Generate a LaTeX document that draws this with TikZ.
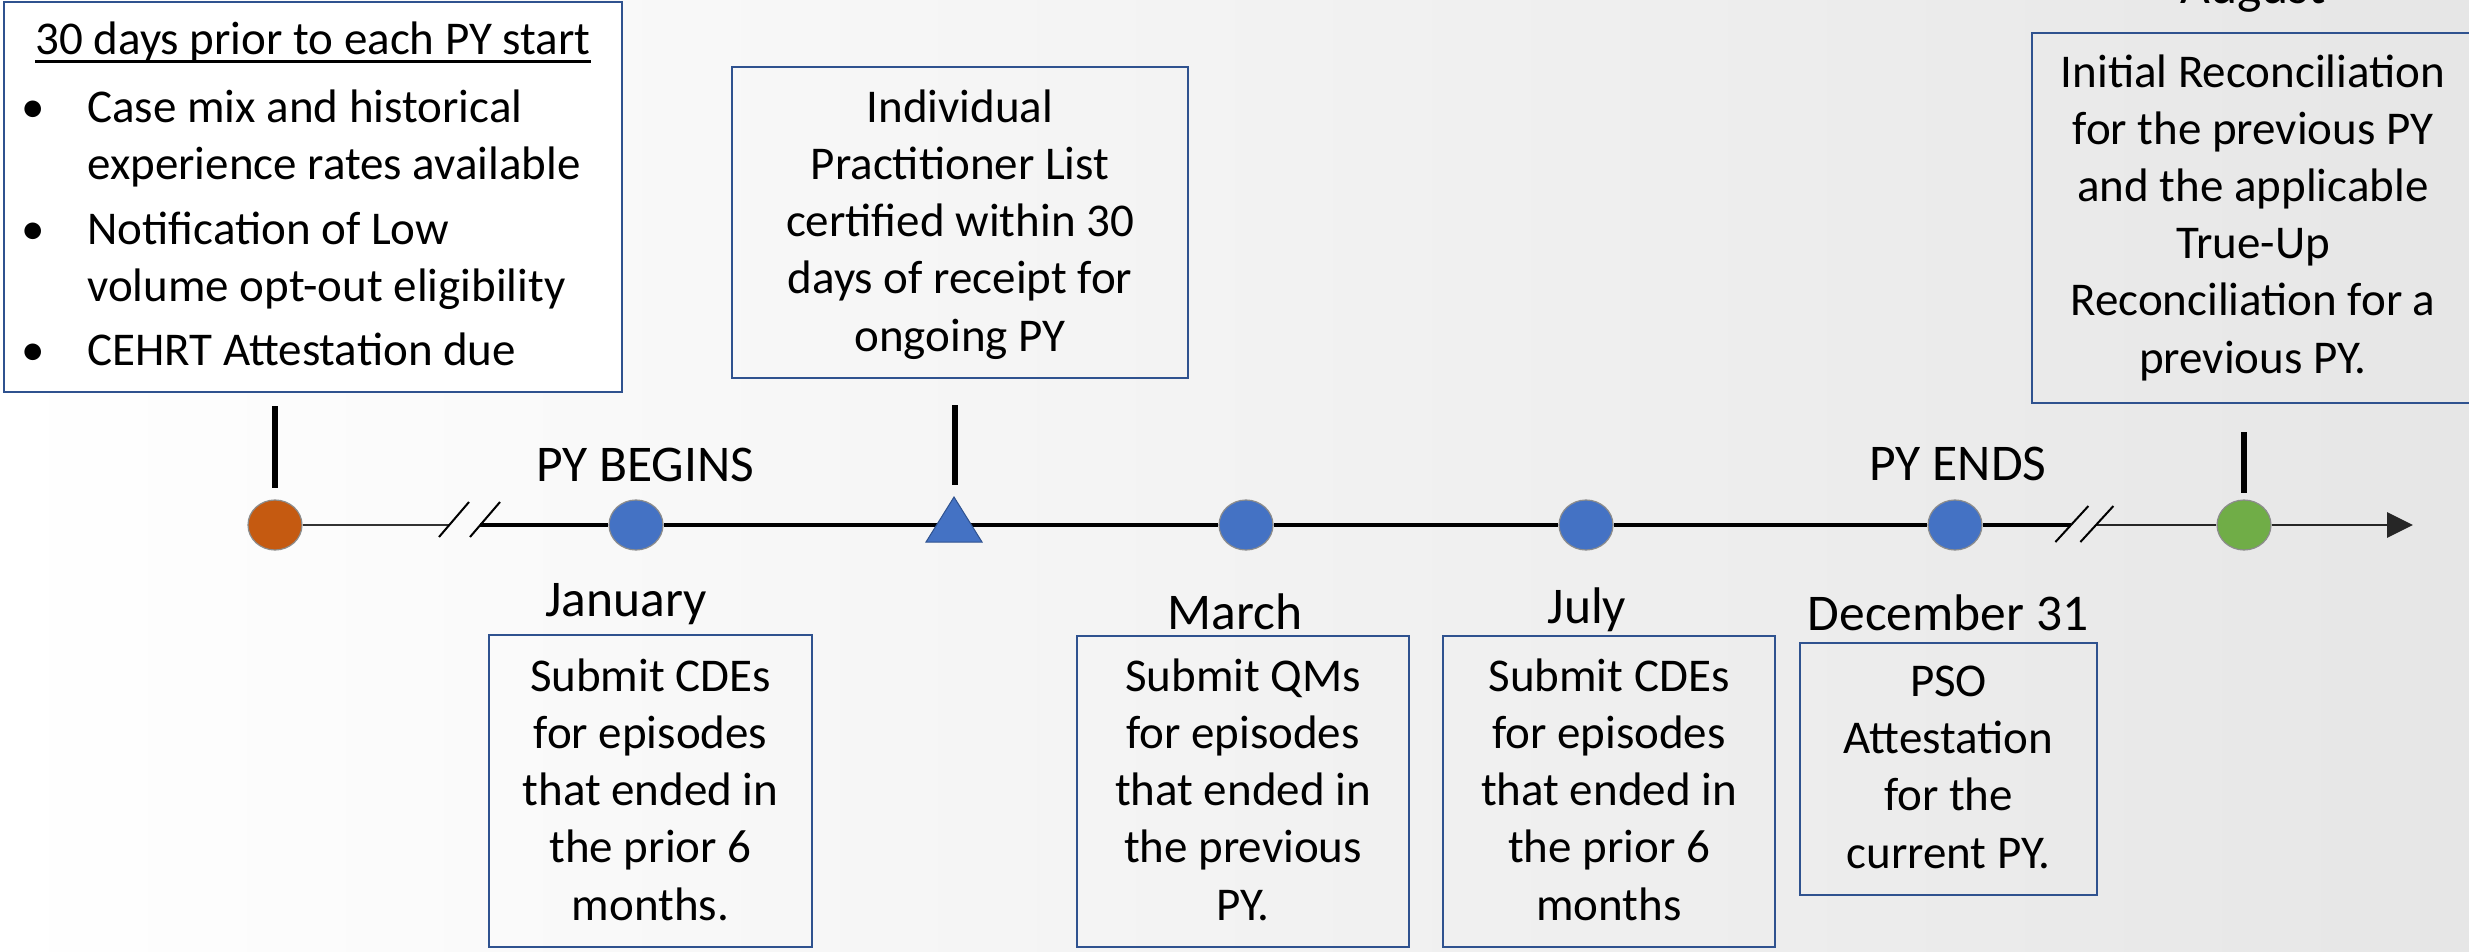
\documentclass[tikz,border=0pt]{standalone}
\usepackage{fontspec}
\setmainfont{Carlito}
\usetikzlibrary{shapes.geometric,arrows.meta}
\definecolor{frameblue}{RGB}{47,82,143}
\definecolor{dotblue}{RGB}{68,114,196}
\definecolor{dotorange}{RGB}{197,90,17}
\definecolor{dotgreen}{RGB}{112,173,71}
\definecolor{bgright}{RGB}{230,230,230}
\begin{document}
\begin{tikzpicture}[x=0.5pt,y=-0.5pt,
  frame/.style={draw=frameblue,line width=1.4pt,rectangle,inner sep=0pt,outer sep=0pt},
  boxtext/.style={font=\fontsize{23.5pt}{28.6pt}\selectfont,align=center,inner sep=0pt,anchor=base},
  itemtext/.style={font=\fontsize{23.5pt}{28.5pt}\selectfont,align=left,inner sep=0pt,anchor=base west},
  lbl/.style={font=\fontsize{25.75pt}{30pt}\selectfont,inner sep=0pt,anchor=base},
  dot/.style={ellipse,minimum width=27pt,minimum height=25pt,inner sep=0pt,draw=black!45,line width=0.6pt},
  tickline/.style={line width=3pt},
  thinseg/.style={line width=1pt,draw=black!80},
  mainseg/.style={line width=1.75pt,draw=black},
  endseg/.style={line width=1.4pt,draw=black!85},
  brk/.style={line width=1pt,draw=black}
]
\useasboundingbox (0,0) rectangle (2469,952);
\clip (0,0) rectangle (2469,952);
\shade[left color=white,right color=bgright] (0,0) rectangle (2469,952);

% boxes
\node[frame,fill=white,minimum width=309pt,minimum height=195pt] (b0) at (313,197) {};
\node[frame,minimum width=228pt,minimum height=155.5pt] (b1) at (960,222.5) {};
\node[frame,minimum width=221pt,minimum height=185pt] (b6) at (2253,218) {};
\node[frame,minimum width=161.5pt,minimum height=156pt] (bjan) at (650.5,791) {};
\node[frame,minimum width=166pt,minimum height=155.5pt] (bmar) at (1243,791.5) {};
\node[frame,minimum width=166pt,minimum height=155.5pt] (bjul) at (1609,791.5) {};
\node[frame,minimum width=148.5pt,minimum height=126pt] (bdec) at (1948.5,769) {};

% box 1 text (anchor base = last line's baseline)
\node[boxtext] (ttl) at (313,55) {30 days prior to each PY start};
\draw[line width=1.5pt] ([yshift=-3.5pt]ttl.base west) -- ([yshift=-3.5pt]ttl.base east);
\node[itemtext] (i1) at (87,180) {\llap{\makebox[0pt][c]{\textbullet}\hspace{27pt}}Case mix and historical\\experience rates available};
\node[itemtext] (i2) at (87,302) {\llap{\makebox[0pt][c]{\textbullet}\hspace{27pt}}Notification of Low\\volume opt-out eligibility};
\node[itemtext] (i3) at (87,365) {\llap{\makebox[0pt][c]{\textbullet}\hspace{27pt}}CEHRT Attestation due};

% other box texts
\node[boxtext] (tb1) at (960,351) {Individual\\Practitioner List\\certified within 30\\days of receipt for\\ongoing PY};
\node[boxtext] (tb6) at (2253,373) {Initial Reconciliation\\for the previous PY\\and the applicable\\True-Up\\Reconciliation for a\\previous PY.};
\node[boxtext] (tjan) at (650.5,920) {Submit CDEs\\for episodes\\that ended in\\the prior 6\\months.};
\node[boxtext] (tmar) at (1243,920) {Submit QMs\\for episodes\\that ended in\\the previous\\PY.};
\node[boxtext] (tjul) at (1609,920) {Submit CDEs\\for episodes\\that ended in\\the prior 6\\months};
\node[boxtext] (tdec) at (1948.5,868) {PSO\\Attestation\\for the\\current PY.};

% labels
\node[lbl] (lbeg) at (645,481) {PY BEGINS};
\node[lbl] (lend) at (1958,480) {PY ENDS};
\node[lbl] (ljan) at (626,616) {January};
\node[lbl] (lmar) at (1235,629) {March};
\node[lbl] (ljul) at (1587,623) {July};
\node[lbl] (ldec) at (1948,630) {December 31};
\node[lbl] (laug) at (2253,4) {August};

% timeline markers
\node[dot,fill=dotorange] (o) at (275,525) {};
\node[dot,fill=dotblue] (c1) at (636,525) {};
\coordinate (t) at (954,525);
\node[dot,fill=dotblue] (c2) at (1246,525) {};
\node[dot,fill=dotblue] (c3) at (1586,525) {};
\node[dot,fill=dotblue] (c4) at (1955,525) {};
\node[dot,fill=dotgreen] (g) at (2244,525) {};

\coordinate (br1a) at (449,525);
\coordinate (br1b) at (480,525);
\coordinate (br2a) at (2071,525);
\coordinate (br2b) at (2096,525);
\coordinate (tip) at (2413,525);

% timeline segments
\draw[thinseg] (o) -- (br1a);
\draw[mainseg] (br1b) -- (c1);
\draw[mainseg] (c1) -- (t);
\draw[mainseg] (t) -- (c2);
\draw[mainseg] (c2) -- (c3);
\draw[mainseg] (c3) -- (c4);
\draw[mainseg] (c4) -- (br2a);
\draw[endseg] (br2b) -- (g);
\draw[endseg,-{Triangle[length=13pt,width=12.5pt]}] (g) -- (tip);

% triangle marker
\fill[dotblue,draw=frameblue,line width=0.5pt] (t) ++(0,-28) -- ++(28,45) -- ++(-56,0) -- cycle;

% break marks
\draw[brk] (br1a) ++(-10,12) -- ++(30,-35);
\draw[brk] (br1b) ++(-10,12) -- ++(30,-35);
\draw[brk] (br2a) ++(-15.6,17) -- ++(33,-36);
\draw[brk] (br2b) ++(-15.6,17) -- ++(33,-36);

% ticks
\coordinate (k1a) at (275,406); \coordinate (k1b) at (275,488);
\coordinate (k2a) at (955,405); \coordinate (k2b) at (955,485);
\coordinate (k3a) at (2244,432); \coordinate (k3b) at (2244,493);
\draw[tickline] (k1a) -- (k1b);
\draw[tickline] (k2a) -- (k2b);
\draw[tickline] (k3a) -- (k3b);
\end{tikzpicture}
\end{document}
